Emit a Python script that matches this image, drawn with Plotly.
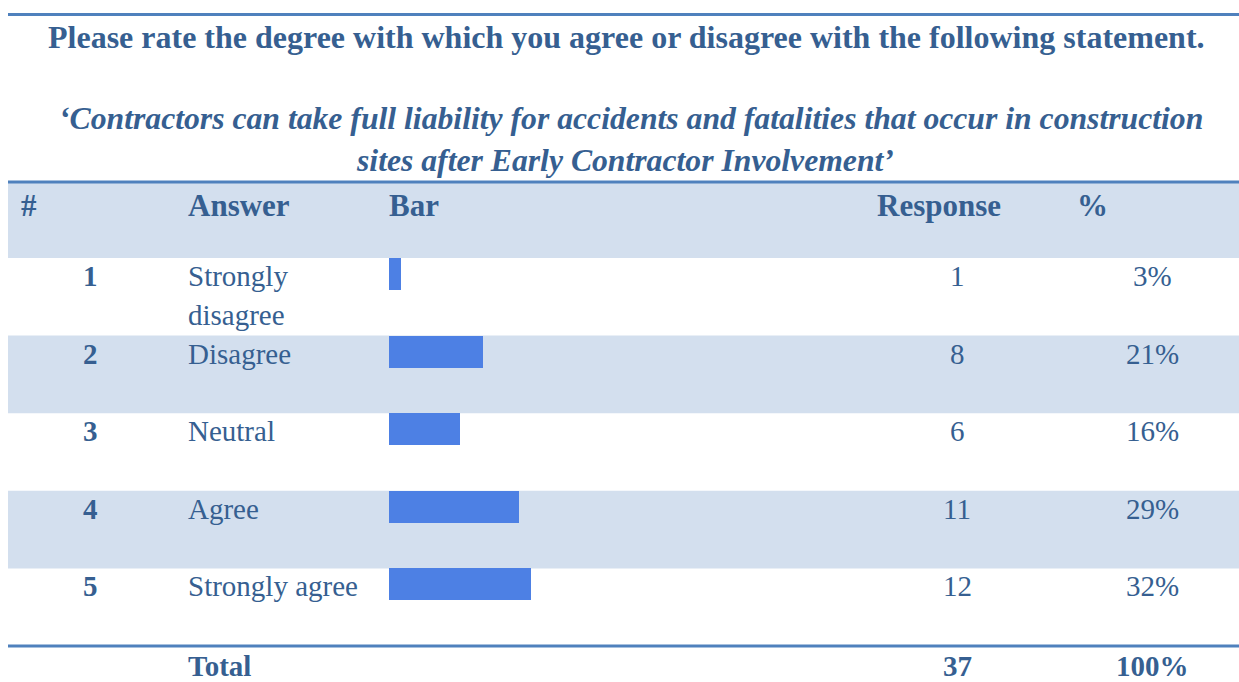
import textwrap
import plotly.graph_objects as go

# ---------------- data ----------------
title = "Please rate the degree with which you agree or disagree with the following statement."
statement_lines = [
    "\u2018Contractors can take full liability for accidents and fatalities that occur in construction",
    "sites after Early Contractor Involvement\u2019",
]
headers = ["#", "Answer", "Bar", "Response", "%"]
row_numbers = [1, 2, 3, 4, 5]
answers = ["Strongly disagree", "Disagree", "Neutral", "Agree", "Strongly agree"]
responses = [1, 8, 6, 11, 12]
percents = ["3%", "21%", "16%", "29%", "32%"]
total_label = "Total"
total_responses = 37
total_percent = "100%"

# ---------------- layout helpers ----------------
W, H = 1239, 682
ROW1_TOP = 258.0      # px, top of first data row
ROW_H = 77.6          # px, row height
PX_PER_RESPONSE = 11.8
BAR_LEFT = 389
BAR_THICK = 32
PAD = 2               # annotation inner padding compensation

TEXT = "#365F91"
RULE = "#4F81BD"
BAND = "#D3DFEE"
BARC = "#4D80E4"
FONT = "Liberation Serif, Times New Roman, serif"


def v(px):
    """pixel row position -> row-index axis value"""
    return (px - ROW1_TOP) / ROW_H + 0.5


fig = go.Figure()

fig.add_trace(go.Bar(
    x=responses, y=row_numbers, orientation="h",
    xaxis="x2", yaxis="y",
    width=BAR_THICK / ROW_H, offset=-0.5,
    marker=dict(color=BARC, line=dict(width=0)),
    hoverinfo="x+y", showlegend=False,
))

shapes = []
# header band
shapes.append(dict(type="rect", xref="x", yref="y", x0=8, x1=W, y0=v(182), y1=0.5,
                   fillcolor=BAND, line=dict(width=0), layer="below"))
# alternating row bands
for i in row_numbers:
    if i % 2 == 0:
        shapes.append(dict(type="rect", xref="x", yref="y", x0=8, x1=W, y0=i - 0.5, y1=i + 0.5,
                           fillcolor=BAND, line=dict(width=0), layer="below"))
# rules
for py in (14.5, 182):
    shapes.append(dict(type="line", xref="x", yref="y", x0=8, x1=W, y0=v(py), y1=v(py),
                       line=dict(color=RULE, width=3)))
shapes.append(dict(type="line", xref="x", yref="y", x0=8, x1=W,
                   y0=row_numbers[-1] + 0.5, y1=row_numbers[-1] + 0.5,
                   line=dict(color=RULE, width=3)))

ann = []


def add_text(text, x, y, size, bold=False, italic=False, xanchor="left"):
    t = text
    if bold:
        t = "<b>" + t + "</b>"
    if italic:
        t = "<i>" + t + "</i>"
    if xanchor == "left":
        x = x - PAD
    ann.append(dict(text=t, x=x, y=y, xref="x", yref="y", xanchor=xanchor, yanchor="middle",
                    showarrow=False, font=dict(family=FONT, size=size, color=TEXT)))


# titles
add_text(title, 626, v(37), 32, bold=True, xanchor="center")
add_text(statement_lines[0], 631, v(118), 31.7, bold=True, italic=True, xanchor="center")
add_text(statement_lines[1], 625, v(160), 31.7, bold=True, italic=True, xanchor="center")

# header
header_x = [21, 188, 389, 877, 1077]
for h, hx in zip(headers, header_x):
    add_text(h, hx, v(205), 31, bold=True)

# rows
for n, a, r, p in zip(row_numbers, answers, responses, percents):
    top = n - 0.5
    yc = top + 18 / ROW_H
    add_text(str(n), 90, yc, 29, bold=True, xanchor="center")
    for k, line in enumerate(textwrap.wrap(a, 15)):
        add_text(line, 188, yc + k * 39 / ROW_H, 29)
    add_text(str(r), 957, yc, 29, xanchor="center")
    add_text(p, 1152, yc, 29, xanchor="center")

# total
add_text(total_label, 188, v(666), 29, bold=True)
add_text(str(total_responses), 957, v(666), 29, bold=True, xanchor="center")
add_text(total_percent, 1152, v(666), 29, bold=True, xanchor="center")

fig.update_layout(
    width=W, height=H, autosize=False,
    margin=dict(l=0, r=0, t=0, b=0, pad=0),
    paper_bgcolor="white", plot_bgcolor="rgba(0,0,0,0)",
    xaxis=dict(range=[0, W], domain=[0, 1], visible=False, fixedrange=True),
    xaxis2=dict(range=[0, (W - BAR_LEFT) / PX_PER_RESPONSE], domain=[BAR_LEFT / W, 1],
                anchor="y", visible=False, fixedrange=True),
    yaxis=dict(range=[v(H), v(0)], domain=[0, 1], visible=False, fixedrange=True),
    shapes=shapes, annotations=ann,
    bargap=0, showlegend=False,
)

fig.write_html("out.html", config={"displayModeBar": False},
               post_script="document.body.style.margin='0';document.body.style.overflow='hidden';")
